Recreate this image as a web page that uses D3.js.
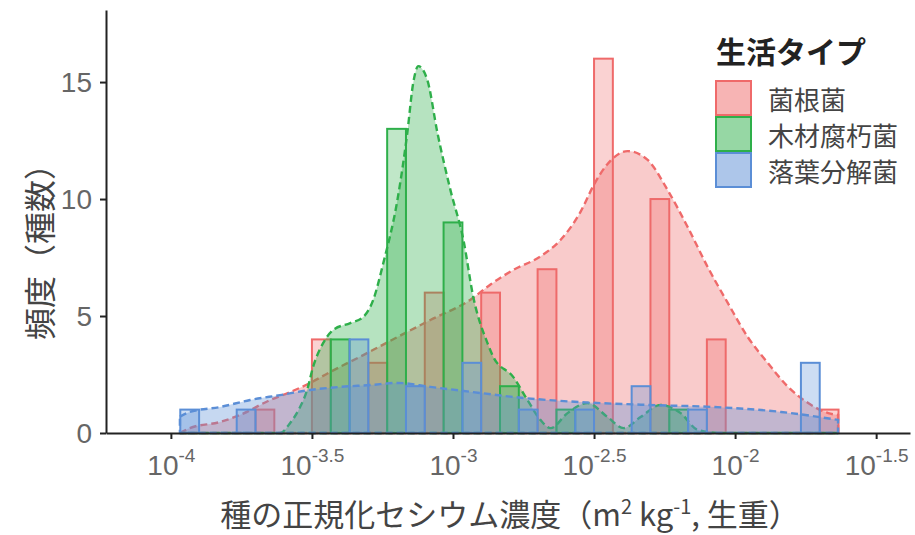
<!DOCTYPE html>
<meta charset="utf-8">
<style>
body { margin:0; background:#fff; }
svg { font-family:"Noto Sans CJK JP", "Noto Sans", sans-serif; }
.axis path, .axis line { stroke:#222; stroke-width:2px; fill:none; }
.axis text { fill:#666; font-size:28px; }
.bar { stroke-width:2px; fill-opacity:0.3; }
.kde { fill-opacity:0.35; stroke-width:2.4px; stroke-dasharray:7,4; }
.label { fill:#444; }
</style>
<body>
<script src="https://d3js.org/d3.v7.min.js"></script>
<script>

// group edges (log10), 0.2 decade wide; each group holds one sub-bar per type
var binEdges = [-4.1,-3.9,-3.7,-3.5,-3.3,-3.1,-2.9,-2.7,-2.5,-2.3,-2.1,-1.9,-1.7,-1.5];
var types = ["菌根菌","木材腐朽菌","落葉分解菌"];
var countsMyco   = [0,0,1,4,3,6,6,7,16,10,4,0,1];
var countsWood   = [0,0,0,4,13,9,2,1,0,1,0,0,0];
var countsLitter = [1,1,0,4,2,3,1,1,2,1,0,3,0];

// density curves: [log10 conc, count]
var kdeMyco = [[-3.968,0],[-3.933,0.21],[-3.826,0.47],[-3.755,0.77],[-3.648,1.41],[-3.577,1.75],
  [-3.506,2.14],[-3.435,2.61],[-3.318,3.33],[-3.197,4.10],[-3.080,4.83],[-2.938,5.70],[-2.867,6.35],
  [-2.786,6.97],[-2.690,7.55],[-2.619,8.25],[-2.548,9.45],[-2.501,10.6],[-2.452,11.5],[-2.381,12.05],
  [-2.310,11.67],[-2.239,10.38],[-2.168,8.80],[-2.097,7.09],[-2.026,5.56],[-1.955,4.10],[-1.884,2.99],
  [-1.812,1.97],[-1.741,1.28],[-1.670,0.85],[-1.635,0.77]];
var kdeWood = [[-3.968,0],[-3.613,0],[-3.577,0.43],[-3.542,1.11],[-3.517,1.84],[-3.496,2.82],
  [-3.460,3.85],[-3.425,4.40],[-3.364,4.70],[-3.318,4.96],[-3.283,5.68],[-3.247,7.26],[-3.197,9.96],
  [-3.162,12.82],[-3.141,14.96],[-3.123,15.68],[-3.091,15.09],[-3.055,12.82],[-3.009,10.38],
  [-2.963,8.25],[-2.928,5.81],[-2.878,3.85],[-2.857,3.25],[-2.786,2.39],[-2.736,1.41],[-2.690,0.56],
  [-2.654,0.21],[-2.594,0.85],[-2.523,1.28],[-2.452,0.68],[-2.395,0.21],[-2.335,0.68],[-2.264,1.20],
  [-2.193,0.85],[-2.132,0.13],[-2.050,0],[-1.635,0]];
var kdeLitter = [[-3.968,0.7],[-3.933,0.90],[-3.826,1.11],[-3.719,1.41],[-3.613,1.62],[-3.506,1.84],
  [-3.400,1.97],[-3.293,2.05],[-3.197,2.14],[-3.080,1.97],[-2.903,1.71],[-2.786,1.54],[-2.548,1.32],
  [-2.310,1.20],[-2.075,1.11],[-1.837,0.90],[-1.635,0.56]];

var xTicks = [-4,-3.5,-3,-2.5,-2,-1.5];
var yTicks = [0,5,10,15];

var colors = ["#EF6A6A","#2EAF4A","#5B8ED6"];
var series = [
  {name:types[0], counts:countsMyco, kde:kdeMyco},
  {name:types[1], counts:countsWood, kde:kdeWood},
  {name:types[2], counts:countsLitter, kde:kdeLitter}
];

var svg = d3.select("body").append("svg").attr("width",915).attr("height",535);

var x = d3.scaleLinear().domain([-4.23,-1.38]).range([106,910]);
var y = d3.scaleLinear().domain([0,18.08]).range([433,10]);

var area = d3.area()
  .x(d=>x(d[0])).y0(y(0)).y1(d=>y(d[1]))
  .curve(d3.curveMonotoneX);

// bars then density, one type after the other (later types cover earlier ones)
series.forEach(function(s,i){
  var g = svg.append("g");
  var bars = s.counts.map(function(c,j){
    var w = (binEdges[j+1]-binEdges[j])/3;
    return {x0:binEdges[j]+w*i, x1:binEdges[j]+w*(i+1), n:c};
  }).filter(d=>d.n>0);

  g.selectAll("rect").data(bars).enter().append("rect").attr("class","bar")
    .attr("x",d=>x(d.x0)).attr("width",d=>x(d.x1)-x(d.x0))
    .attr("y",d=>y(d.n)).attr("height",d=>y(0)-y(d.n))
    .attr("fill",colors[i]).attr("stroke",colors[i]);

  g.append("path").datum(s.kde).attr("class","kde")
    .attr("d",area).attr("fill",colors[i]).attr("stroke",colors[i]);
});

// axes
svg.append("g").attr("class","axis")
  .attr("transform","translate(106,0)")
  .call(d3.axisLeft(y).tickValues(yTicks).tickSize(6).tickSizeOuter(0).tickPadding(8))
  .selectAll("text").attr("dy","0.35em");

var xa = svg.append("g").attr("class","axis")
  .attr("transform","translate(0,433)")
  .call(d3.axisBottom(x).tickValues(xTicks).tickSize(6).tickSizeOuter(0).tickFormat(""));
xa.selectAll(".tick").each(function(d){
  var t = d3.select(this).append("text").attr("y",42).attr("text-anchor","middle")
    .attr("fill","#666").style("font-size","28px");
  t.append("tspan").text("10");
  t.append("tspan").attr("dy",-13).style("font-size","19px").text(String(d));
});

// axis titles
svg.append("text").attr("class","label")
  .attr("transform","translate(38,244) rotate(-90)")
  .attr("text-anchor","middle").attr("dominant-baseline","central")
  .style("font-size","32px").text("頻度（種数）");

var xl = svg.append("text").attr("class","label")
  .attr("x",510).attr("y",526).attr("text-anchor","middle").style("font-size","31px");
xl.append("tspan").text("種の正規化セシウム濃度（m");
xl.append("tspan").attr("dy",-12).style("font-size","20px").text("2");
xl.append("tspan").attr("dy",12).text(" kg");
xl.append("tspan").attr("dy",-12).style("font-size","20px").text("-1");
xl.append("tspan").attr("dy",12).text(", 生重）");

// legend
var lg = svg.append("g");
lg.append("text").attr("x",716).attr("y",63).style("font-size","30px")
  .style("font-weight","bold").attr("fill","#222").text("生活タイプ");
types.forEach(function(t,i){
  lg.append("rect").attr("x",716).attr("y",81+i*36).attr("width",35).attr("height",34)
    .attr("fill",colors[i]).attr("fill-opacity",0.5)
    .attr("stroke",colors[i]).attr("stroke-width",2);
  lg.append("text").attr("class","label").attr("x",768).attr("y",98+i*36)
    .attr("dominant-baseline","central").style("font-size","26px").text(t);
});

</script>
</body>
